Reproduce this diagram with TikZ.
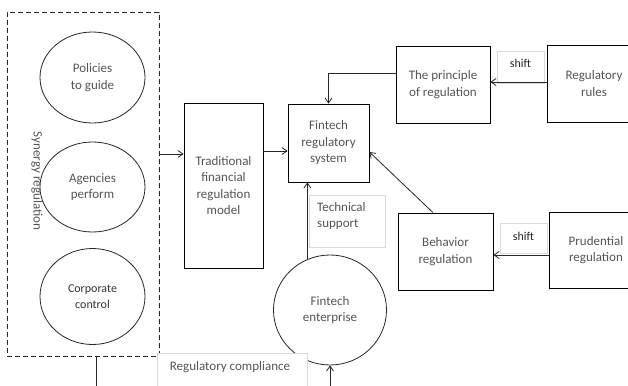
\documentclass[tikz,border=0pt]{standalone}
\usepackage{fontspec}
\setmainfont{Carlito}
\usetikzlibrary{arrows.meta,shapes.geometric}
\definecolor{txt}{HTML}{555555}
\definecolor{lbl}{HTML}{DADADA}
\begin{document}
\begin{tikzpicture}[x=1pt,y=-1pt,
  every node/.style={font=\fontsize{13}{16.5}\selectfont, text=txt, align=center, inner sep=0pt},
  box/.style={draw=black, line width=0.8pt, rectangle},
  oval/.style={draw=black!85, line width=0.8pt, ellipse},
  lblbox/.style={draw=lbl, line width=0.6pt, fill=white, rectangle},
  conn/.style={draw=black!85, line width=0.8pt},
  arr/.style={conn, -{Straight Barb[length=5pt,width=7pt]}}]
\useasboundingbox (0,0) rectangle (628,385);
\clip (0,0) rectangle (628,385);
\fill[white] (0,0) rectangle (628,385);

% synergy group
\node[draw=black!85, line width=0.9pt, dash pattern=on 5pt off 3pt, minimum width=152, minimum height=344] (syn) at (83,184) {};
\node[rotate=-90] (syntxt) at (37,181) {Synergy regulation};
\node[oval, minimum width=105, minimum height=91] (pol) at (92.5,77.5) {Policies\\to guide};
\node[oval, minimum width=105, minimum height=90] (age) at (92.5,187) {Agencies\\perform};
\node[oval, minimum width=105, minimum height=96, text=black!80, font=\fontsize{12}{16.5}\selectfont] (cor) at (92.5,296.5) {Corporate\\control};

% boxes
\node[box, minimum width=79, minimum height=165] (trad) at (223.5,185.5) {Traditional\\financial\\regulation\\model};
\node[box, minimum width=81, minimum height=78] (fts) at (328.5,143) {Fintech\\regulatory\\system};
\node[box, minimum width=94, minimum height=77] (prin) at (443,84.5) {The principle\\of regulation};
\node[box, minimum width=94, minimum height=77] (rules) at (594,83.5) {Regulatory\\rules};
\node[box, minimum width=95, minimum height=77] (beh) at (445.5,251.5) {Behavior\\regulation};
\node[box, minimum width=94, minimum height=76] (prud) at (596,250) {Prudential\\regulation};
\node[oval, minimum width=113, minimum height=110] (ent) at (330,310) {Fintech\\enterprise};

% label boxes
\node[lblbox, minimum width=47, minimum height=32] (sh1) at (520.5,67) {};
\node[text=black!85, font=\fontsize{12}{14}\selectfont] (sh1t) at (520.5,63) {shift};
\node[lblbox, minimum width=47, minimum height=30] (sh2) at (523.5,238) {};
\node[text=black!85, font=\fontsize{12}{14}\selectfont] (sh2t) at (523.5,236) {shift};
\node[lblbox, minimum width=76, minimum height=52] (ts) at (347,221) {};
\node[anchor=west, align=left] (tst) at (317,216) {Technical\\support};

% connectors
\draw[arr] (syn.east |- 0,154) -- (trad.west |- 0,154);
\draw[arr] (trad.east |- 0,151) -- (fts.west |- 0,151);
\draw[arr] (prin.west |- 0,73) -| (fts.north);
\draw[arr] (rules.west |- 0,82) -- (prin.east |- 0,82);
\draw[arr] (prud.west |- 0,255) -- (beh.east |- 0,255);
\draw[arr] (beh.north -| 433,0) -- (fts.east |- 0,152);
\draw[arr] (ent.114) -- (ent.114 |- fts.south);
\coordinate (bl) at (96,386.3);
\draw[arr] (syn.south -| bl) -- (bl) -| (ent.south);

\node[lblbox, minimum width=150, minimum height=36] (rc) at (232,371) {};
\node (rct) at (230,367) {Regulatory compliance};
\end{tikzpicture}
\end{document}
